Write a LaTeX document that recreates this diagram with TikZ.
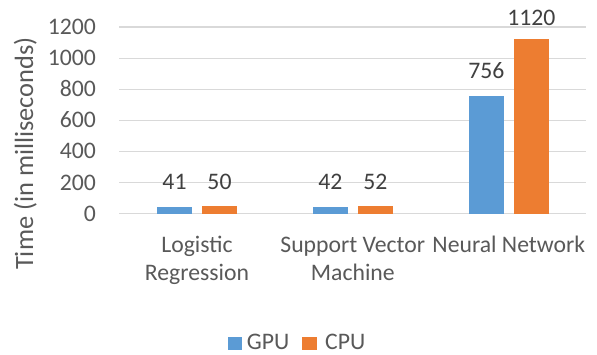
\documentclass[tikz,border=0pt]{standalone}
\usepackage{fontspec}
\setmainfont{Carlito}
\definecolor{gpu}{HTML}{5B9BD5}
\definecolor{cpu}{HTML}{ED7D31}
\definecolor{grid}{HTML}{D9D9D9}
\definecolor{axtext}{HTML}{595959}
\definecolor{dltext}{HTML}{404040}
\begin{document}
\begin{tikzpicture}[x=1pt,y=-1pt,
  ticklab/.style={anchor=base east,inner sep=0pt,text=axtext,font=\fontsize{23.7}{28}\selectfont},
  catlab/.style={anchor=base,inner sep=0pt,text=axtext,font=\fontsize{23.7}{28}\selectfont},
  datalab/.style={anchor=base,inner sep=0pt,text=dltext,font=\fontsize{23.7}{28}\selectfont},
  leglab/.style={anchor=base west,inner sep=0pt,text depth=0pt,text=axtext,font=\fontsize{23.7}{28}\selectfont},
  gridline/.style={draw=grid,line width=1.2pt},
  gpubar/.style={fill=gpu},
  cpubar/.style={fill=cpu}]
\useasboundingbox (0,0) rectangle (597,354);
\fill[white] (0,0) rectangle (597,354);
% gridlines and tick labels
\foreach \v/\lab in {0/0,200/200,400/400,600/600,800/800,1000/1000,1200/1200}{
  \pgfmathsetmacro{\yy}{213.7-\v*0.15558}
  \draw[gridline] (119,\yy) -- (586,\yy);
  \node[ticklab] (t\v) at (96,\yy+7.5) {\lab};
}
% bars
\foreach \c/\g/\p/\gl/\pl/\gb/\pb/\n in {197/41/50/41/50/189/189/a,352.8/42/52/42/52/189/189/b,508.8/756/1120/756/1120/78.7/25.7/c}{
  \pgfmathsetmacro{\gt}{213.7-\g*0.15558}
  \pgfmathsetmacro{\pt}{213.7-\p*0.15558}
  \fill[gpubar] (\c-40,213.7) rectangle (\c-5,\gt);
  \fill[cpubar] (\c+5,213.7) rectangle (\c+40,\pt);
  \node[datalab] (dg\n) at (\c-22.5,\gb) {\gl};
  \node[datalab] (dc\n) at (\c+22.5,\pb) {\pl};
}
% category labels
\node[catlab] (lr1) at (197,252.3) {Logistic};
\node[catlab] (lr2) at (197,280.7) {Regression};
\node[catlab] (sv1) at (352.8,252.3) {Support Vector};
\node[catlab] (sv2) at (352.8,280.7) {Machine};
\node[catlab] (nn1) at (508.8,252.3) {Neural Network};
% axis title
\node[anchor=base,inner sep=0pt,text=axtext,rotate=90,font=\fontsize{26.4}{30}\selectfont] (ytitle) at (33,153.5) {Time (in milliseconds)};
% legend
\fill[gpu] (227.7,336.7) rectangle (241.7,350);
\node[leglab] (lgpu) at (246.7,349.5) {GPU};
\fill[cpu] (302,336.7) rectangle (316.7,350);
\node[leglab] (lcpu) at (325,349.5) {CPU};
\end{tikzpicture}
\end{document}
